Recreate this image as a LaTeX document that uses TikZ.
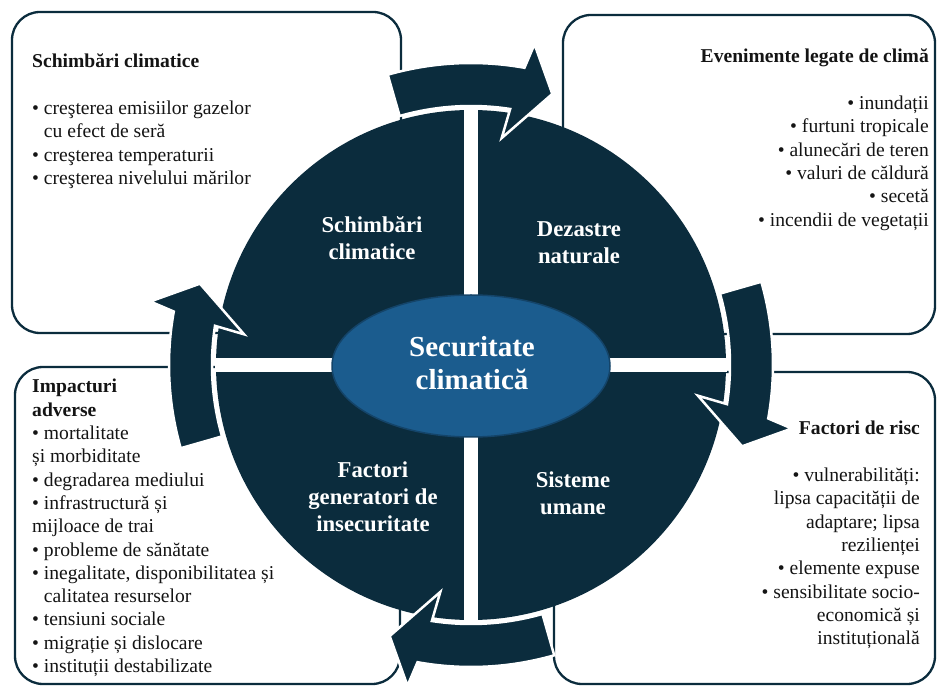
\documentclass[tikz,border=0pt]{standalone}
\usepackage{fontspec}
\setmainfont{Liberation Serif}
\usetikzlibrary{shapes.geometric}
\definecolor{navy}{RGB}{11,44,61}
\definecolor{ellblue}{RGB}{27,92,142}
\definecolor{ellrim}{RGB}{20,68,105}
\definecolor{txt}{RGB}{20,20,20}
\begin{document}
\begin{tikzpicture}[x=1pt,y=1pt,
  box/.style={draw=navy, line width=2.3pt, rounded corners=28pt, fill=white},
  boxtext/.style={inner sep=0pt, text=txt, font=\fontsize{19.6}{23.3}\selectfont},
  quadlabel/.style={inner sep=0pt, text=white, anchor=base, font=\bfseries\fontsize{22.7}{27}\selectfont},
  arrowshape/.style={fill=navy, draw=white, line width=2.5pt, line join=miter}
]
\useasboundingbox (0,0) rectangle (937,686);
\fill[white] (0,0) rectangle (937,686);

% boxes
\draw[box] (12,353) rectangle (401,674);
\draw[box] (563,352) rectangle (935,671);
\draw[box] (15,2) rectangle (400,319);
\draw[box] (554,2) rectangle (935,314);

% box texts
\node[boxtext, anchor=base west] (tltext) at (32,618) {\begin{tabular}[t]{@{}l@{}}
\textbf{Schimbări climatice}\\
\\
• creşterea emisiilor gazelor\\
\phantom{•\ }cu efect de seră\\
• creşterea temperaturii\\
• creşterea nivelului mărilor
\end{tabular}};

\node[boxtext, anchor=base east] (trtext) at (929,623) {\begin{tabular}[t]{@{}r@{}}
\textbf{Evenimente legate de climă}\\
\\
• inundații\\
• furtuni tropicale\\
• alunecări de teren\\
• valuri de căldură\\
• secetă\\
• incendii de vegetații
\end{tabular}};

\node[boxtext, anchor=base west] (bltext) at (32,293) {\begin{tabular}[t]{@{}l@{}}
\textbf{Impacturi}\\
\textbf{adverse}\\
• mortalitate\\
și morbiditate\\
• degradarea mediului\\
• infrastructură și\\
mijloace de trai\\
• probleme de sănătate\\
• inegalitate, disponibilitatea și\\
\phantom{•\ }calitatea resurselor\\
• tensiuni sociale\\
• migrație și dislocare\\
• instituții destabilizate
\end{tabular}};

\node[boxtext, anchor=base east] (brtext) at (920,251) {\begin{tabular}[t]{@{}r@{}}
\textbf{Factori de risc}\\
\\
• vulnerabilități:\\
lipsa capacității de\\
adaptare; lipsa\\
rezilienței\\
• elemente expuse\\
• sensibilitate socio-\\
economică și\\
instituțională
\end{tabular}};

% circle with white cross
\fill[navy] (471,321) circle[radius=255];
\fill[white] (464,65) rectangle (478,577);
\fill[white] (215,314) rectangle (727,328);

% circular arrows
\foreach \k in {0,1,2,3}{
  \begin{scope}[shift={(471,321)}, rotate={-90*\k}]
    \filldraw[arrowshape] (106:302pt) arc[start angle=106, end angle=79.8, radius=302pt]
      -- (78.8:327pt) -- (73.3:283pt) -- (82.3:229pt) -- (81.3:259pt)
      arc[start angle=81.3, end angle=106, radius=259pt] -- cycle;
  \end{scope}
}

% quadrant labels
\node[quadlabel] (q1) at (372,453) {\begin{tabular}[t]{@{}c@{}}Schimbări\\climatice\end{tabular}};
\node[quadlabel] (q2) at (579,449) {\begin{tabular}[t]{@{}c@{}}Dezastre\\naturale\end{tabular}};
\node[quadlabel] (q3) at (373,208) {\begin{tabular}[t]{@{}c@{}}Factori\\generatori de\\insecuritate\end{tabular}};
\node[quadlabel] (q4) at (573,198) {\begin{tabular}[t]{@{}c@{}}Sisteme\\umane\end{tabular}};

% centre ellipse
\node[ellipse, fill=ellblue, draw=ellrim, line width=1.5pt, minimum width=278pt, minimum height=142pt, inner sep=0pt] (core) at (471,320) {};
\node[inner sep=0pt, text=white, anchor=base, font=\bfseries\fontsize{29}{33}\selectfont] (coretext) at (472,329)
  {\begin{tabular}[t]{@{}c@{}}Securitate\\climatică\end{tabular}};
\end{tikzpicture}
\end{document}
